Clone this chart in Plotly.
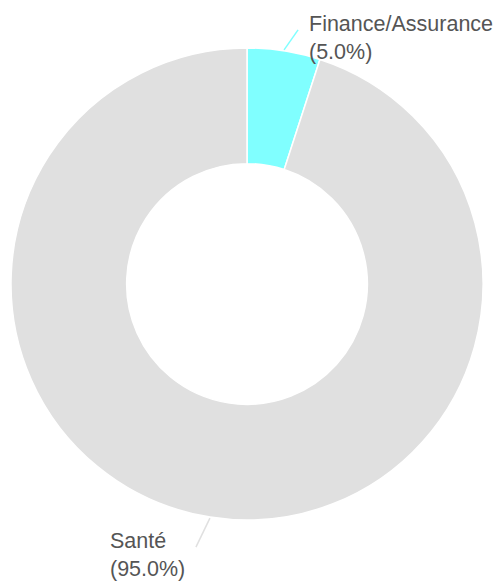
import math
import plotly.graph_objects as go

labels = ["Finance/Assurance", "Santé"]
values = [5.0, 95.0]
colors = ["#80ffff", "#e0e0e0"]

W, H = 500, 587
cx, cy, R = 247, 284, 236   # pie centre and outer radius, px from top-left

fig = go.Figure(go.Pie(
    labels=labels,
    values=values,
    hole=0.51,
    sort=False,
    direction="clockwise",
    rotation=0,
    textinfo="none",
    hoverinfo="label+percent",
    marker=dict(colors=colors, line=dict(color="white", width=1.5)),
    domain=dict(x=[(cx - R) / W, (cx + R) / W],
                y=[(H - cy - R) / H, (H - cy + R) / H]),
    showlegend=False,
))

def px2paper(x, y):
    return x / W, 1 - y / H

# leader lines and labels placed from the slice mid-angles
total = sum(values)
cum = 0
shapes, annotations = [], []
for lab, v, col in zip(labels, values, colors):
    mid = (cum + v / 2) / total * 2 * math.pi
    cum += v
    sx = 1 if math.sin(mid) >= 0 else -1
    top = math.cos(mid) >= 0
    x0 = cx + (R + 1) * math.sin(mid)
    y0 = cy - (R + 1) * math.cos(mid)
    x1 = x0 + 14 * sx
    y1 = y0 - 20 if top else y0 + 29
    p0 = px2paper(x0, y0)
    p1 = px2paper(x1, y1)
    shapes.append(dict(type="line", xref="paper", yref="paper",
                       x0=p0[0], y0=p0[1], x1=p1[0], y1=p1[1],
                       line=dict(color=col, width=1.5)))
    tx, ty = px2paper(x1 + 9 * sx, y1 + 8)
    pct = v / total * 100
    annotations.append(dict(
        xref="paper", yref="paper", x=tx, y=ty,
        xanchor="left" if sx > 0 else "right", yanchor="middle",
        text=f"{lab}<br>({pct:.1f}%)", align="left", showarrow=False,
        font=dict(family="Liberation Sans, Arial, sans-serif", size=21.5, color="#555555"),
    ))

fig.update_layout(
    width=W, height=H,
    margin=dict(l=0, r=0, t=0, b=0),
    paper_bgcolor="white",
    plot_bgcolor="white",
    shapes=shapes,
    annotations=annotations,
)

fig.write_html("out.html", config={"displayModeBar": False},
               post_script="document.body.style.margin='0';")
